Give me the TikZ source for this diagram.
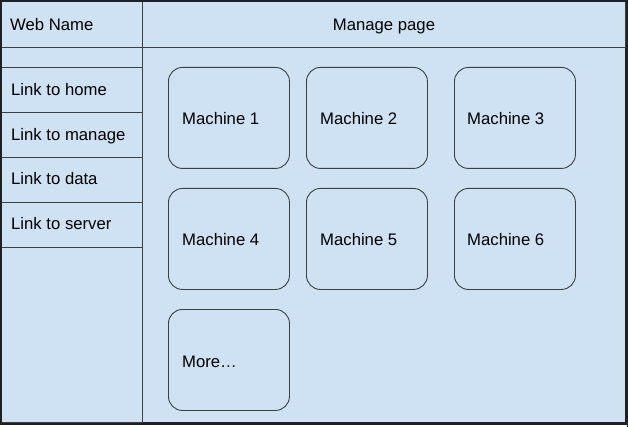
\documentclass[tikz,border=0pt]{standalone}
\usepackage{fontspec}
\setmainfont{Liberation Sans}
\usetikzlibrary{calc}
\definecolor{bgblue}{HTML}{CFE2F3}
\definecolor{edge}{HTML}{3C4043}
\definecolor{darkedge}{HTML}{202124}
\begin{document}
\begin{tikzpicture}[x=1pt,y=-1pt,
  cell/.style={draw=edge, fill=bgblue, line width=1pt, rectangle, anchor=north west, inner sep=0pt},
  machine/.style={draw=edge, fill=bgblue, line width=0.9pt, rectangle, rounded corners=14pt, anchor=north west, inner sep=0pt, minimum width=121pt, minimum height=101pt},
  txt/.style={anchor=base west, inner sep=0pt, font=\fontsize{16.7}{20}\selectfont, text=black},
  ctxt/.style={anchor=base, inner sep=0pt, font=\fontsize{16.7}{20}\selectfont, text=black}]
\useasboundingbox (0,0) rectangle (628,427);
% outer frame
\node[cell, draw=darkedge, line width=2pt, minimum width=624pt, minimum height=421pt] (frame) at (1,1) {};
% header
\node[cell, minimum width=141pt, minimum height=46pt] (webcell) at (1,1) {};
\node[cell, minimum width=483pt, minimum height=46pt] (mancell) at (142,1) {};
\node[txt] (webname) at ($(webcell.north west)+(9,30)$) {Web Name};
\node[ctxt] (manage) at ($(mancell.north)+(0,30)$) {Manage page};
% left column
\node[cell, minimum width=141pt, minimum height=20pt] (empty) at (1,47) {};
\node[cell, minimum width=141pt, minimum height=45pt] (l1) at (1,67) {};
\node[cell, minimum width=141pt, minimum height=45pt] (l2) at (1,112) {};
\node[cell, minimum width=141pt, minimum height=45pt] (l3) at (1,157) {};
\node[cell, minimum width=141pt, minimum height=45pt] (l4) at (1,202) {};
\node[cell, minimum width=141pt, minimum height=175pt] (rest) at (1,247) {};
\node[txt] (t1) at ($(l1.north west)+(10,28.7)$) {Link to home};
\node[txt] (t2) at ($(l2.north west)+(10,28.3)$) {Link to manage};
\node[txt] (t3) at ($(l3.north west)+(10,27.5)$) {Link to data};
\node[txt] (t4) at ($(l4.north west)+(10,27.2)$) {Link to server};
% redraw outer frame border on top
\draw[darkedge, line width=2pt] (frame.north west) rectangle (frame.south east);
% machines
\node[machine] (m1) at (168,67) {};
\node[machine] (m2) at (306,67) {};
\node[machine] (m3) at (454,67) {};
\node[machine] (m4) at (168,188) {};
\node[machine] (m5) at (306,188) {};
\node[machine] (m6) at (454,188) {};
\node[machine] (m7) at (168,309) {};
\node[txt] (mt1) at ($(m1.north west)+(14,58)$) {Machine 1};
\node[txt] (mt2) at ($(m2.north west)+(14,58)$) {Machine 2};
\node[txt] (mt3) at ($(m3.north west)+(13,58)$) {Machine 3};
\node[txt] (mt4) at ($(m4.north west)+(14,58)$) {Machine 4};
\node[txt] (mt5) at ($(m5.north west)+(14,58)$) {Machine 5};
\node[txt] (mt6) at ($(m6.north west)+(13,58)$) {Machine 6};
\node[txt] (mt7) at ($(m7.north west)+(14,58)$) {More…};
% stray mark
\coordinate (s1) at (627.3,410);
\coordinate (s2) at (627.3,427);
\draw[darkedge, line width=1.3pt] (s1) -- (s2);
\end{tikzpicture}
\end{document}
